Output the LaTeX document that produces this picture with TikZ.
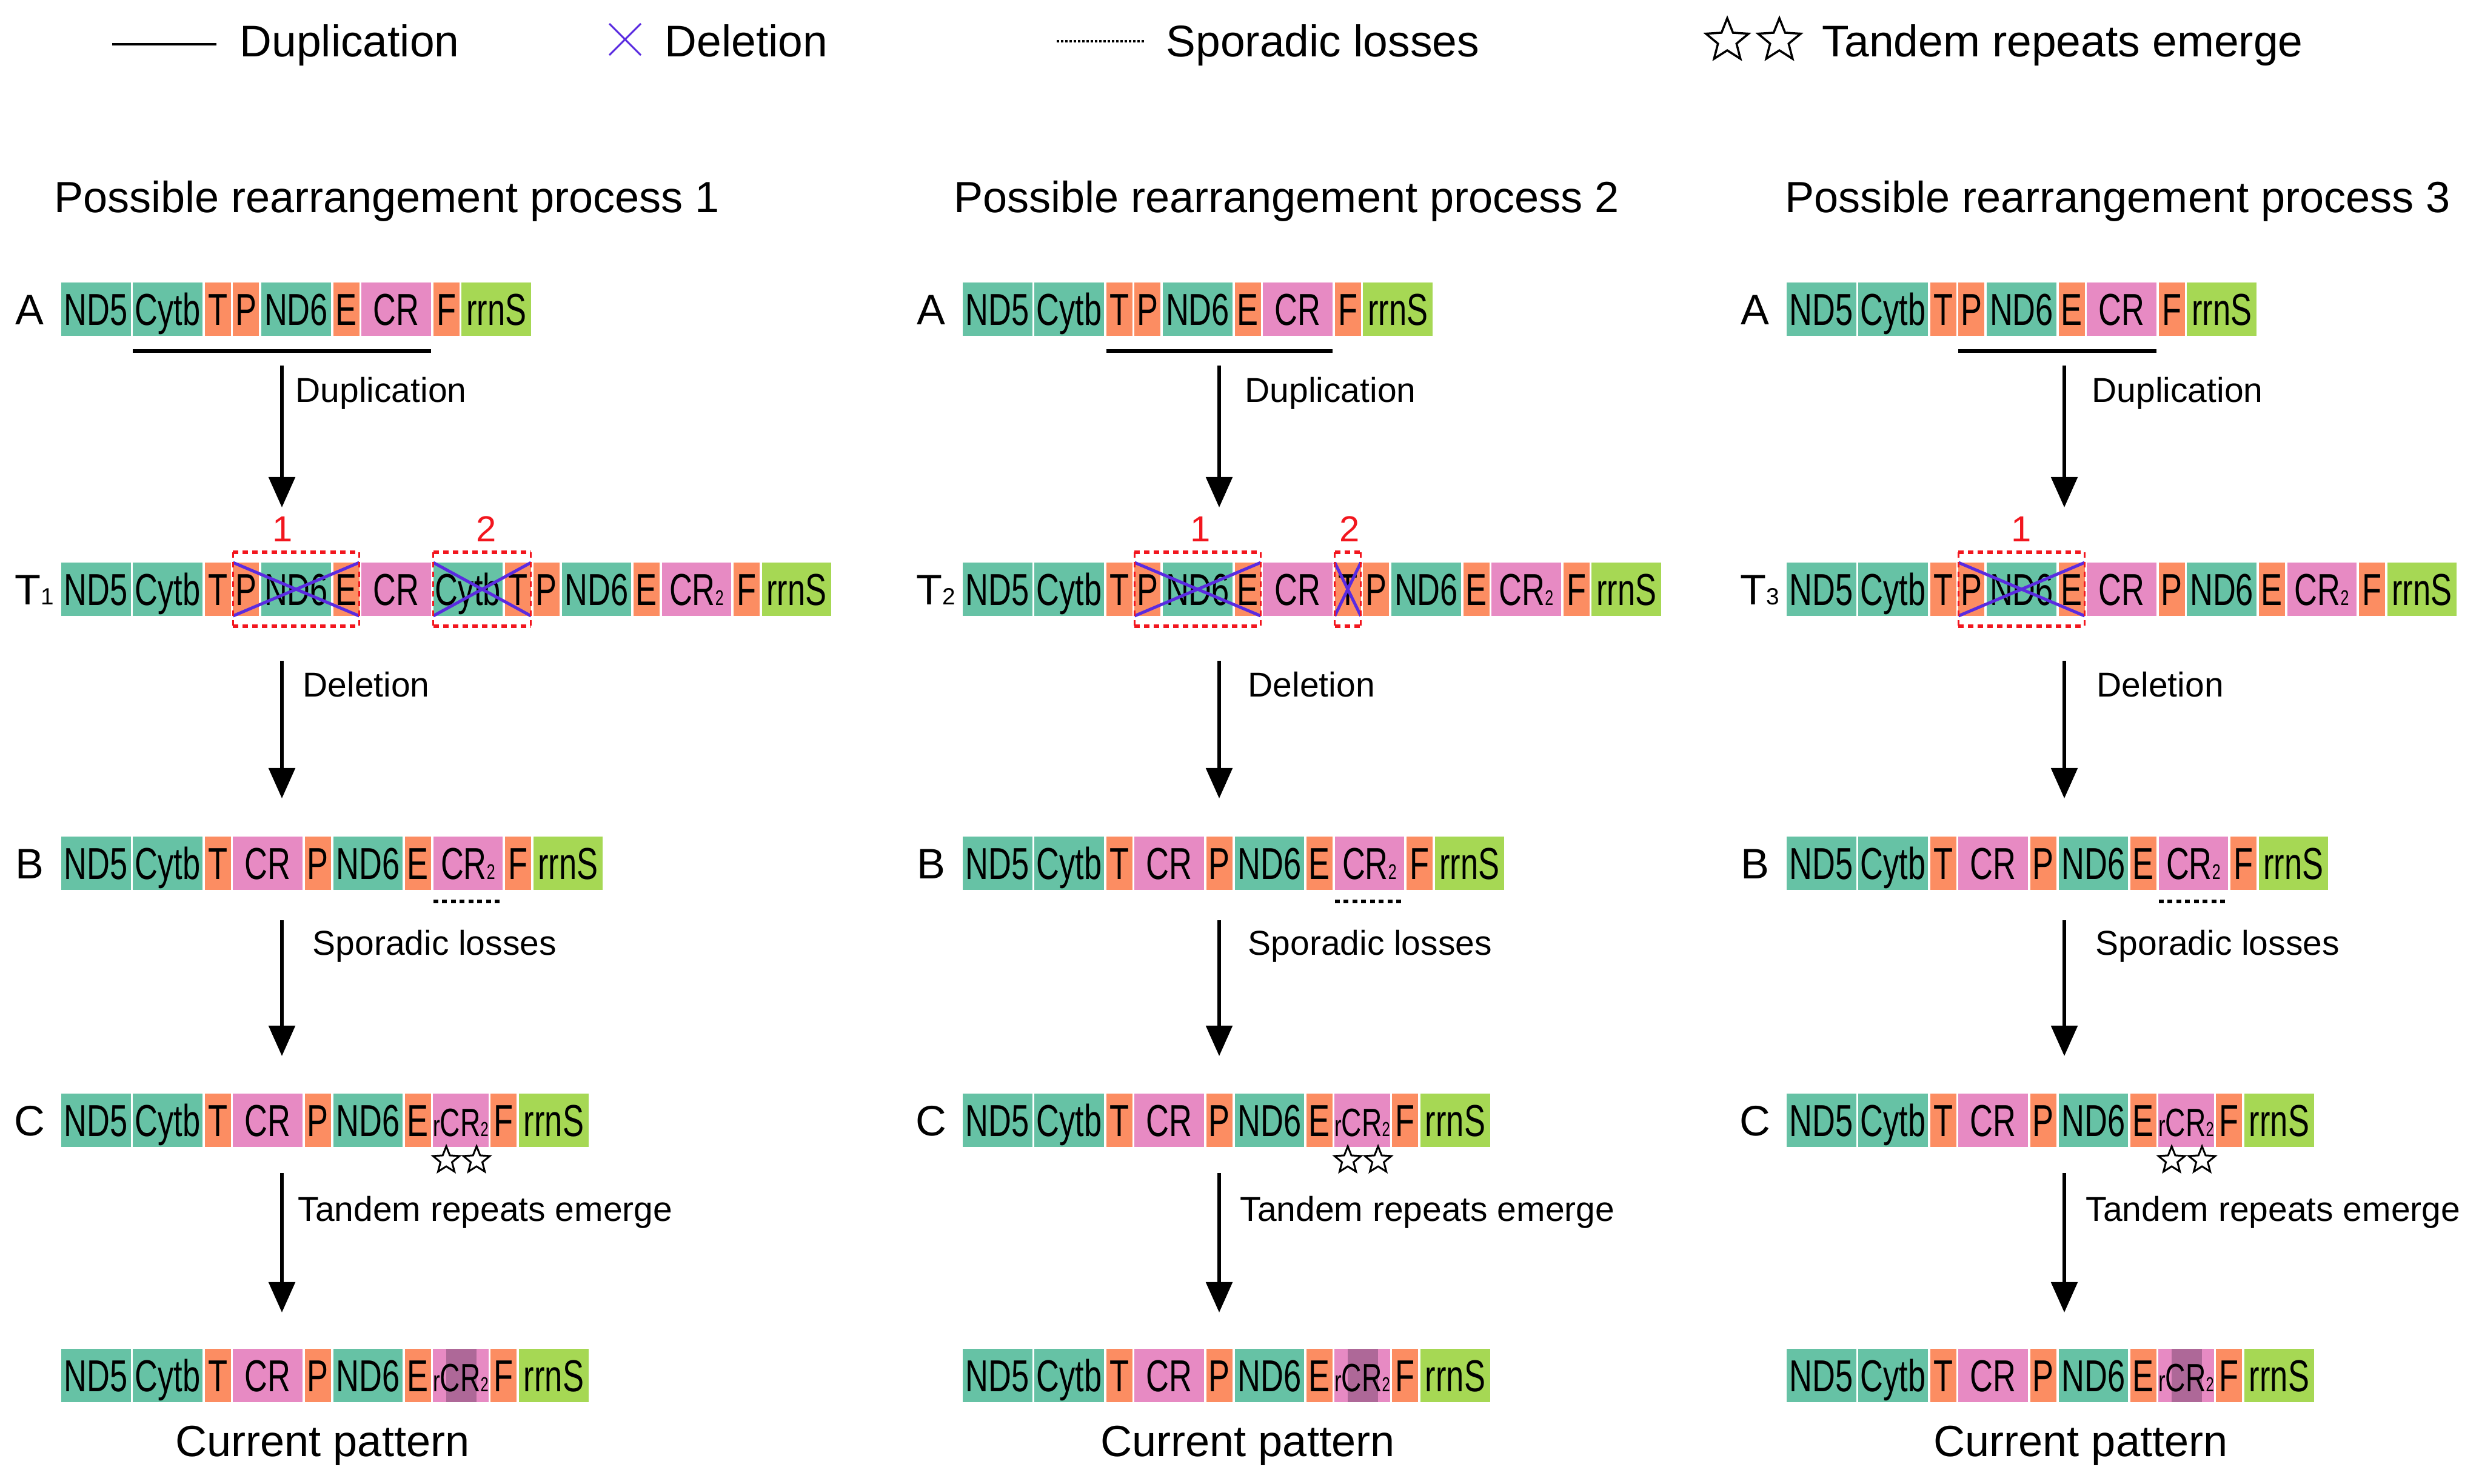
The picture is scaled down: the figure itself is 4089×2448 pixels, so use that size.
\documentclass[tikz,border=0pt]{standalone}
\usepackage{fontspec}
\setmainfont{Liberation Sans}
\newfontfamily\genefont{Liberation Sans}[FakeStretch=0.71]
\usetikzlibrary{arrows.meta,shapes.geometric,calc}
\definecolor{gteal}{HTML}{66C2A5}
\definecolor{gorange}{HTML}{FC8D62}
\definecolor{gpink}{HTML}{E78AC3}
\definecolor{glime}{HTML}{A6D854}
\definecolor{gdark}{HTML}{AE6898}
\definecolor{gviolet}{HTML}{5A2BE0}
\definecolor{gred}{HTML}{F2161E}

\newcommand\CRtwo{CR{\fontsize{10}{10}\selectfont 2}}
\newcommand\rCRtwo{{\fontsize{14}{14}\selectfont r}{\fontsize{18.5}{18.5}\selectfont CR}{\fontsize{9.5}{9.5}\selectfont 2}}

\def\rowA{114.5/gT/ND5,114.5/gT/Cytb,43/gO/T,43/gO/P,114.5/gT/ND6,43/gO/E,114.5/gP/CR,43/gO/F,114.5/gL/rrnS}
\def\rowTa{114.5/gT/ND5,114.5/gT/Cytb,43/gO/T,43/gO/P,114.5/gT/ND6,43/gO/E,114.5/gP/CR,114.5/gT/Cytb,43/gO/T,43/gO/P,114.5/gT/ND6,43/gO/E,114.5/gP/\CRtwo,43/gO/F,114.5/gL/rrnS}
\def\rowTb{114.5/gT/ND5,114.5/gT/Cytb,43/gO/T,43/gO/P,114.5/gT/ND6,43/gO/E,114.5/gP/CR,43/gO/T,43/gO/P,114.5/gT/ND6,43/gO/E,114.5/gP/\CRtwo,43/gO/F,114.5/gL/rrnS}
\def\rowTc{114.5/gT/ND5,114.5/gT/Cytb,43/gO/T,43/gO/P,114.5/gT/ND6,43/gO/E,114.5/gP/CR,43/gO/P,114.5/gT/ND6,43/gO/E,114.5/gP/\CRtwo,43/gO/F,114.5/gL/rrnS}
\def\rowB{114.5/gT/ND5,114.5/gT/Cytb,43/gO/T,114.5/gP/CR,43/gO/P,114.5/gT/ND6,43/gO/E,114.5/gP/\CRtwo,43/gO/F,114.5/gL/rrnS}
\def\rowC{114.5/gT/ND5,114.5/gT/Cytb,43/gO/T,114.5/gP/CR,43/gO/P,114.5/gT/ND6,43/gO/E,91/gP/\rCRtwo,43/gO/F,114.5/gL/rrnS}
\def\rowD{114.5/gT/ND5,114.5/gT/Cytb,43/gO/T,114.5/gP/CR,43/gO/P,114.5/gT/ND6,43/gO/E,91/gD/\rCRtwo,43/gO/F,114.5/gL/rrnS}

\newcommand\generow[4]{%
  \xdef\curx{#2}%
  \foreach \bw/\st/\lbl [count=\i] in #4 {%
    \node[genebox, minimum width=\bw*0.01cm, applystyle/.expanded=\st] (#1-\i) at ({\curx+\bw/2},#3) {\lbl};
    \pgfmathsetmacro\nx{\curx+\bw+3.8}%
    \xdef\curx{\nx}%
  }%
}

\newcommand\redbox[3]{%
  \coordinate (#3tl) at ($(#1.north west)+(0,-17)$);
  \coordinate (#3tr) at ($(#2.north east)+(0,-17)$);
  \coordinate (#3bl) at ($(#1.south west)+(0,17)$);
  \coordinate (#3br) at ($(#2.south east)+(0,17)$);
  \draw[xline] (#1.north west) -- (#2.south east);
  \draw[xline] (#1.south west) -- (#2.north east);
  \draw[redtb] (#3tl) -- (#3tr);
  \draw[redtb] (#3bl) -- (#3br);
  \draw[redsd] (#3tl) -- (#3bl);
  \draw[redsd] (#3tr) -- (#3br);
}

% #1 prefix, #2 x0, #3 arrow x, #4 dup x, #5 del x, #6 spo x, #7 tan x, #8 title x, #9 current pattern x
\newcommand\panel[9]{%
  \node[titletext, anchor=base] (#1title) at (#8,350) {Possible rearrangement process \pnum};
  \generow{#1a}{#2}{510}{\rowA}
  \node[rowlab] (#1labA) at ({#2-52},510) {A};
  \node[rowlab, anchor=east] (#1labT) at ({#2-12},972) {T{\fontsize{11}{11}\selectfont\pnum}};
  \generow{#1b}{#2}{1424}{\rowB}
  \node[rowlab] (#1labB) at ({#2-52},1424) {B};
  \generow{#1c}{#2}{1848}{\rowC}
  \node[rowlab] (#1labC) at ({#2-52},1848) {C};
  \generow{#1d}{#2}{2269}{\rowD}
  \node[titletext, anchor=base] (#1cp) at (#9,2402) {Current pattern};
  \coordinate (#1s1) at (#3,603);  \coordinate (#1e1) at (#3,837);
  \coordinate (#1s2) at (#3,1090); \coordinate (#1e2) at (#3,1317);
  \coordinate (#1s3) at (#3,1518); \coordinate (#1e3) at (#3,1742);
  \coordinate (#1s4) at (#3,1935); \coordinate (#1e4) at (#3,2165);
  \draw[flow] (#1s1) -- (#1e1);
  \draw[flow] (#1s2) -- (#1e2);
  \draw[flow] (#1s3) -- (#1e3);
  \draw[flow] (#1s4) -- (#1e4);
  \node[steplabel] (#1ldup) at (#4,663) {Duplication};
  \node[steplabel] (#1ldel) at (#5,1149) {Deletion};
  \node[steplabel] (#1lspo) at (#6,1575) {Sporadic losses};
  \node[steplabel] (#1ltan) at (#7,2014) {Tandem repeats emerge};
  \coordinate (#1spa) at ($(#1b-8.south west)+(0,19)$);
  \coordinate (#1spb) at ($(#1b-8.south east)+(0,19)$);
  \draw[sporadic] (#1spa) -- (#1spb);
  \node[cstar] (#1st1) at ($(#1c-8.south)+(-24,22)$) {};
  \node[cstar] (#1st2) at ($(#1c-8.south)+(26,22)$) {};
}

\tikzset{
  genebox/.style={inner sep=0pt, outer sep=0pt, minimum height=0.88cm, text height=15pt, text depth=0pt, font=\genefont\fontsize{21}{21}\selectfont, text=black},
  applystyle/.style={#1},
  gT/.style={fill=gteal}, gO/.style={fill=gorange}, gP/.style={fill=gpink}, gL/.style={fill=glime},
  gD/.style={fill=gpink, path picture={\fill[gdark] ([xshift=0.22cm]path picture bounding box.north west) rectangle ([xshift=-0.20cm]path picture bounding box.south east);}},
  rowlab/.style={inner sep=0pt, outer sep=0pt, font=\fontsize{20}{20}\selectfont, text height=14.3pt, text depth=0pt},
  titletext/.style={inner sep=0pt, font=\fontsize{20.5}{20.5}\selectfont},
  legtext/.style={inner sep=0pt, font=\fontsize{20.8}{20.8}\selectfont, anchor=base west},
  steplabel/.style={inner sep=0pt, font=\fontsize{16.2}{16.2}\selectfont, anchor=base west},
  rednum/.style={inner sep=0pt, text=gred, font=\fontsize{17}{17}\selectfont, anchor=base},
  flow/.style={line width=0.055cm, -{Triangle[length=0.5cm,width=0.43cm]}},
  dupline/.style={line width=0.06cm},
  sporadic/.style={line width=0.055cm, dash pattern=on 0.08cm off 0.065cm},
  redtb/.style={draw=gred, line width=0.065cm, dash pattern=on 0.09cm off 0.07cm},
  redsd/.style={draw=gred, line width=0.03cm, dash pattern=on 0.09cm off 0.07cm},
  xline/.style={draw=gviolet, line width=0.05cm},
  cstar/.style={star, star points=5, star point ratio=2.3, draw, line width=0.03cm, fill=white, minimum size=0.46cm, inner sep=0pt},
  lstar/.style={cstar, minimum size=0.74cm, line width=0.035cm},
}

\begin{document}
\begin{tikzpicture}[x=0.01cm, y=-0.01cm]
\useasboundingbox (0,0) rectangle (4089,2448);

% legend
\coordinate (lga) at (185,73);
\coordinate (lgb) at (357,73);
\draw[line width=0.035cm] (lga) -- (lgb);
\node[legtext] (lgdup) at (395,93) {Duplication};
\draw[xline, line width=0.03cm] (1005,39) -- (1057,91);
\draw[xline, line width=0.03cm] (1005,91) -- (1057,39);
\node[legtext] (lgdel) at (1096,93) {Deletion};
\coordinate (lgsa) at (1743,68);
\coordinate (lgsb) at (1890,68);
\draw[line width=0.04cm, dash pattern=on 0.035cm off 0.035cm] (lgsa) -- (lgsb);
\node[legtext] (lgspo) at (1923,93) {Sporadic losses};
\node[lstar] (lgst1) at (2849,67) {};
\node[lstar] (lgst2) at (2935,67) {};
\node[legtext] (lgtan) at (3005,93) {Tandem repeats emerge};

% panel 1
\def\pnum{1}
\panel{p1}{101}{465}{487}{499}{515}{491}{638}{532}
\generow{p1t}{101}{972}{\rowTa}
\draw[dupline] ($(p1a-2.south west)+(0,25)$) -- ($(p1a-7.south east)+(0,25)$);
\redbox{p1t-4}{p1t-6}{p1ra}
\redbox{p1t-8}{p1t-9}{p1rb}
\node[rednum] (p1n1) at (466,893) {1};
\node[rednum] (p1n2) at (802,893) {2};

% panel 2
\def\pnum{2}
\panel{p2}{1588}{2011}{2053}{2058}{2058}{2045}{2122}{2058}
\generow{p2t}{1588}{972}{\rowTb}
\draw[dupline] ($(p2a-3.south west)+(0,25)$) -- ($(p2a-7.south east)+(0,25)$);
\redbox{p2t-4}{p2t-6}{p2ra}
\redbox{p2t-8}{p2t-8}{p2rb}
\node[rednum] (p2n1) at (1980,893) {1};
\node[rednum] (p2n2) at (2226,893) {2};

% panel 3
\def\pnum{3}
\panel{p3}{2947}{3405}{3450}{3458}{3456}{3440}{3493}{3432}
\generow{p3t}{2947}{972}{\rowTc}
\draw[dupline] ($(p3a-4.south west)+(0,25)$) -- ($(p3a-7.south east)+(0,25)$);
\redbox{p3t-4}{p3t-6}{p3ra}
\node[rednum] (p3n1) at (3334,893) {1};
\end{tikzpicture}
\end{document}
